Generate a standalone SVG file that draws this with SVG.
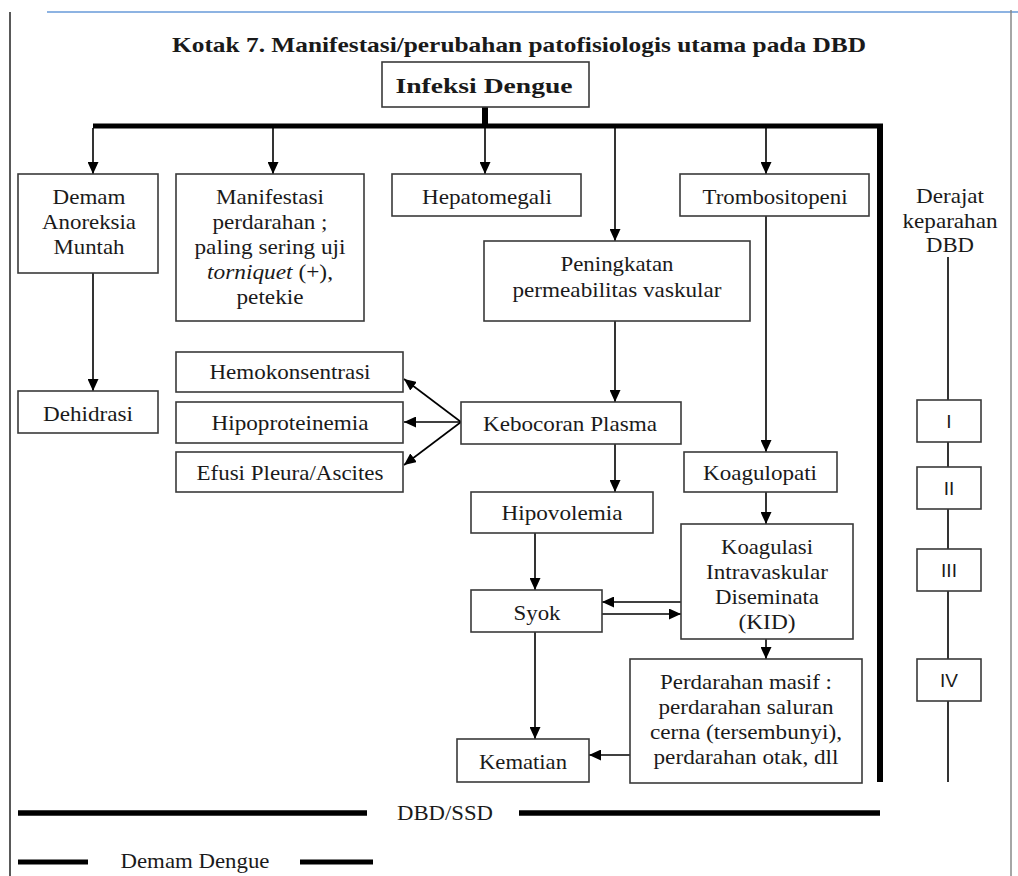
<svg xmlns="http://www.w3.org/2000/svg" width="1018" height="876" viewBox="0 0 1018 876">
<defs>
<marker id="ah" markerUnits="userSpaceOnUse" markerWidth="12" markerHeight="11" refX="12" refY="5.5" orient="auto"><path d="M0,0 L12,5.5 L0,11 Z" fill="#000"/></marker>
<style>
.box{fill:#fff;stroke:#3a3a3a;stroke-width:1.6}
.t{font-family:"Liberation Serif","Times New Roman",serif;font-size:22px;fill:#1a1a1a;text-anchor:middle}
.b{font-weight:bold}
.r{font-family:"Liberation Sans",Arial,sans-serif;font-size:19px;fill:#1a1a1a;text-anchor:middle}
.c{stroke:#000;stroke-width:1.6;fill:none}
.a{marker-end:url(#ah)}
.k{stroke:#000;fill:none}
</style>
</defs>
<rect width="1018" height="876" fill="#fff"/>
<g id="frame">
<line x1="47" y1="12" x2="1018" y2="12" stroke="#8db3e2" stroke-width="2"/>
<line x1="10" y1="12" x2="10" y2="876" stroke="#222" stroke-width="1.5"/>
<line x1="1011" y1="10" x2="1011" y2="876" stroke="#888" stroke-width="1.5"/>
</g>
<text id="title" class="t b" x="519" y="52" font-size="24" textLength="694" lengthAdjust="spacingAndGlyphs">Kotak 7. Manifestasi/perubahan patofisiologis utama pada DBD</text>
<g id="connectors">
<line class="k" x1="485" y1="106" x2="485" y2="127" stroke-width="6"/>
<line class="k" x1="93" y1="126" x2="883" y2="126" stroke-width="5"/>
<line class="k" x1="880" y1="124" x2="880" y2="782" stroke-width="6"/>
<line class="c a" x1="93" y1="128" x2="93" y2="174"/>
<line class="c a" x1="273" y1="128" x2="273" y2="174"/>
<line class="c a" x1="485" y1="128" x2="485" y2="174"/>
<line class="c a" x1="615" y1="128" x2="615" y2="241"/>
<line class="c a" x1="766" y1="128" x2="766" y2="174"/>
<line class="c a" x1="93" y1="273" x2="93" y2="391"/>
<line class="c a" x1="615" y1="321" x2="615" y2="402"/>
<line class="c a" x1="766" y1="216" x2="766" y2="452"/>
<line class="c a" x1="615" y1="444" x2="615" y2="492"/>
<line class="c a" x1="535" y1="533" x2="535" y2="590"/>
<line class="c a" x1="766" y1="492" x2="766" y2="524"/>
<line class="c a" x1="681" y1="602" x2="602" y2="602"/>
<line class="c a" x1="602" y1="614" x2="681" y2="614"/>
<line class="c a" x1="766" y1="639" x2="766" y2="659"/>
<line class="c a" x1="535" y1="632" x2="535" y2="739"/>
<line class="c a" x1="630" y1="755" x2="589" y2="755"/>
<line class="c a" x1="461" y1="422" x2="404" y2="379"/>
<line class="c a" x1="461" y1="422" x2="404" y2="422"/>
<line class="c a" x1="461" y1="422" x2="404" y2="465"/>
<line class="c" x1="948" y1="257" x2="948" y2="782" stroke-width="1.4"/>
<line class="k" x1="18" y1="813" x2="367" y2="813" stroke-width="5.5"/>
<line class="k" x1="519" y1="813" x2="880" y2="813" stroke-width="5.5"/>
<line class="k" x1="18" y1="862" x2="88" y2="862" stroke-width="5"/>
<line class="k" x1="300" y1="862" x2="373" y2="862" stroke-width="5"/>
</g>
<g id="infeksi"><rect class="box" x="382" y="62" width="207" height="45"/><text class="t b" x="484" y="93" font-size="25" textLength="177" lengthAdjust="spacingAndGlyphs">Infeksi Dengue</text></g>
<g id="demam"><rect class="box" x="18" y="174" width="140" height="99"/>
<text class="t" x="89" y="204" textLength="73" lengthAdjust="spacingAndGlyphs">Demam</text>
<text class="t" x="89" y="229" textLength="94" lengthAdjust="spacingAndGlyphs">Anoreksia</text>
<text class="t" x="89" y="254" textLength="71" lengthAdjust="spacingAndGlyphs">Muntah</text></g>
<g id="manifestasi"><rect class="box" x="176" y="174" width="188" height="147"/>
<text class="t" x="270" y="204" textLength="108" lengthAdjust="spacingAndGlyphs">Manifestasi</text>
<text class="t" x="270" y="229" textLength="115" lengthAdjust="spacingAndGlyphs">perdarahan ;</text>
<text class="t" x="270" y="254" textLength="151" lengthAdjust="spacingAndGlyphs">paling sering uji</text>
<text class="t" x="270" y="279" textLength="126" lengthAdjust="spacingAndGlyphs"><tspan font-style="italic">torniquet</tspan> (+),</text>
<text class="t" x="270" y="304" textLength="67" lengthAdjust="spacingAndGlyphs">petekie</text></g>
<g id="hepatomegali"><rect class="box" x="392" y="174" width="189" height="42"/><text class="t" x="487" y="204" textLength="130" lengthAdjust="spacingAndGlyphs">Hepatomegali</text></g>
<g id="trombositopeni"><rect class="box" x="680" y="174" width="189" height="42"/><text class="t" x="775" y="204" textLength="145" lengthAdjust="spacingAndGlyphs">Trombositopeni</text></g>
<g id="peningkatan"><rect class="box" x="484" y="241" width="266" height="80"/>
<text class="t" x="617" y="271" textLength="113" lengthAdjust="spacingAndGlyphs">Peningkatan</text>
<text class="t" x="617" y="297" textLength="209" lengthAdjust="spacingAndGlyphs">permeabilitas vaskular</text></g>
<g id="hemokonsentrasi"><rect class="box" x="176" y="352" width="227" height="40"/><text class="t" x="290" y="379" textLength="161" lengthAdjust="spacingAndGlyphs">Hemokonsentrasi</text></g>
<g id="hipoproteinemia"><rect class="box" x="176" y="402" width="227" height="41"/><text class="t" x="290" y="430" textLength="157" lengthAdjust="spacingAndGlyphs">Hipoproteinemia</text></g>
<g id="efusi"><rect class="box" x="176" y="452" width="227" height="40"/><text class="t" x="290" y="480" textLength="187" lengthAdjust="spacingAndGlyphs">Efusi Pleura/Ascites</text></g>
<g id="dehidrasi"><rect class="box" x="18" y="391" width="140" height="42"/><text class="t" x="88" y="421" textLength="90" lengthAdjust="spacingAndGlyphs">Dehidrasi</text></g>
<g id="kebocoran"><rect class="box" x="461" y="402" width="220" height="42"/><text class="t" x="570" y="431" textLength="174" lengthAdjust="spacingAndGlyphs">Kebocoran Plasma</text></g>
<g id="koagulopati"><rect class="box" x="684" y="452" width="153" height="40"/><text class="t" x="760" y="480" textLength="114" lengthAdjust="spacingAndGlyphs">Koagulopati</text></g>
<g id="hipovolemia"><rect class="box" x="471" y="492" width="182" height="41"/><text class="t" x="562" y="520" textLength="121" lengthAdjust="spacingAndGlyphs">Hipovolemia</text></g>
<g id="syok"><rect class="box" x="471" y="590" width="131" height="42"/><text class="t" x="537" y="620" textLength="47" lengthAdjust="spacingAndGlyphs">Syok</text></g>
<g id="kid"><rect class="box" x="681" y="524" width="172" height="115"/>
<text class="t" x="767" y="554" textLength="92" lengthAdjust="spacingAndGlyphs">Koagulasi</text>
<text class="t" x="767" y="579" textLength="122" lengthAdjust="spacingAndGlyphs">Intravaskular</text>
<text class="t" x="767" y="604" textLength="104" lengthAdjust="spacingAndGlyphs">Diseminata</text>
<text class="t" x="767" y="629" textLength="57" lengthAdjust="spacingAndGlyphs">(KID)</text></g>
<g id="perdarahan"><rect class="box" x="630" y="659" width="232" height="124"/>
<text class="t" x="746" y="689" textLength="172" lengthAdjust="spacingAndGlyphs">Perdarahan masif :</text>
<text class="t" x="746" y="714" textLength="175" lengthAdjust="spacingAndGlyphs">perdarahan saluran</text>
<text class="t" x="746" y="739" textLength="192" lengthAdjust="spacingAndGlyphs">cerna (tersembunyi),</text>
<text class="t" x="746" y="764" textLength="185" lengthAdjust="spacingAndGlyphs">perdarahan otak, dll</text></g>
<g id="kematian"><rect class="box" x="457" y="739" width="132" height="43"/><text class="t" x="523" y="769" textLength="88" lengthAdjust="spacingAndGlyphs">Kematian</text></g>
<g id="derajat">
<text class="t" x="950" y="203" textLength="68" lengthAdjust="spacingAndGlyphs">Derajat</text>
<text class="t" x="950" y="228" textLength="95" lengthAdjust="spacingAndGlyphs">keparahan</text>
<text class="t" x="950" y="252" textLength="48" lengthAdjust="spacingAndGlyphs">DBD</text></g>
<g id="stage1"><rect class="box" x="917" y="400" width="64" height="42"/><text class="r" x="949" y="428">I</text></g>
<g id="stage2"><rect class="box" x="917" y="467" width="64" height="42"/><text class="r" x="949" y="495">II</text></g>
<g id="stage3"><rect class="box" x="917" y="549" width="64" height="42"/><text class="r" x="949" y="577">III</text></g>
<g id="stage4"><rect class="box" x="917" y="659" width="64" height="42"/><text class="r" x="949" y="687">IV</text></g>
<g id="legend">
<text class="t" x="445" y="820" textLength="96" lengthAdjust="spacingAndGlyphs">DBD/SSD</text>
<text class="t" x="195" y="868" textLength="149" lengthAdjust="spacingAndGlyphs">Demam Dengue</text></g>
</svg>
